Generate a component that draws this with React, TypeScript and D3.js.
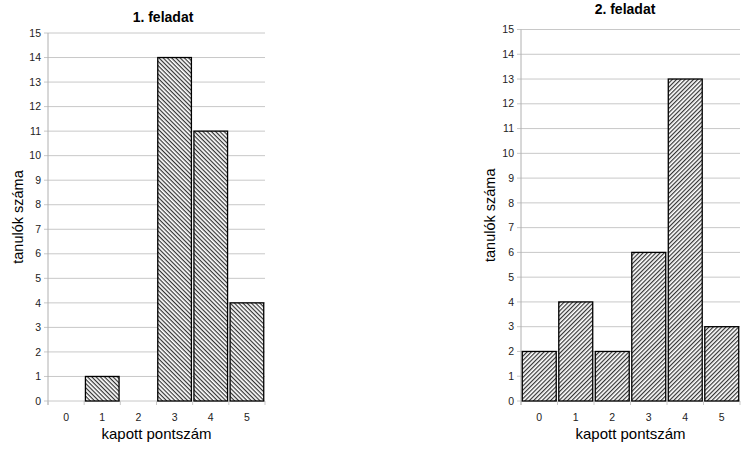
import * as d3 from 'd3';

// Chart data
const categories = ['0', '1', '2', '3', '4', '5'];
const task1Values = [0, 1, 0, 14, 11, 4];
const task2Values = [2, 4, 2, 6, 13, 3];
const yTicks = d3.range(0, 16);
const titles = ['1. feladat', '2. feladat'];
const xTitle = 'kapott pontszám';
const yTitle = 'tanulók száma';

const font = '"Liberation Sans", Arial, sans-serif';

type PanelProps = {
  values: number[];
  title: string;
  left: number;
  right: number;
  top: number;
  bottom: number;
  titleX: number;
  titleY: number;
  yLabelX: number;
  pattern: string;
};

function Panel({ values, title, left, right, top, bottom, titleX, titleY, yLabelX, pattern }: PanelProps) {
  const x = d3.scaleBand().domain(categories).range([left, right]).paddingInner(0.07).paddingOuter(0.035);
  const y = d3.scaleLinear().domain([0, 15]).range([bottom, top]);
  const step = (right - left) / categories.length;

  return (
    <g fontFamily={font}>
      <text x={titleX} y={titleY} textAnchor="middle" fontSize={14} fontWeight="bold" fill="#000">
        {title}
      </text>
      {/* gridlines + y ticks */}
      {yTicks.map((t) => (
        <g key={t}>
          <line x1={left - 4} x2={right} y1={y(t)} y2={y(t)} stroke="#c8c8c8" strokeWidth={1} />
          <text x={left - 7} y={y(t)} dy="0.35em" textAnchor="end" fontSize={10.5} fill="#222">
            {t}
          </text>
        </g>
      ))}
      {/* y axis */}
      <line x1={left} x2={left} y1={top} y2={bottom + 4} stroke="#b0b0b0" />
      {/* x ticks at band boundaries */}
      {d3.range(0, categories.length + 1).map((i) => (
        <line key={i} x1={left + i * step} x2={left + i * step} y1={bottom} y2={bottom + 4} stroke="#c8c8c8" />
      ))}
      {categories.map((c) => (
        <text key={c} x={(x(c) ?? 0) + x.bandwidth() / 2} y={bottom + 16} dy="0.35em" textAnchor="middle" fontSize={10.5} fill="#222">
          {c}
        </text>
      ))}
      {/* bars */}
      {values.map((v, i) =>
        v > 0 ? (
          <rect
            key={i}
            x={x(categories[i])}
            y={y(v)}
            width={x.bandwidth()}
            height={bottom - y(v)}
            fill={`url(#${pattern})`}
            stroke="#000"
            strokeWidth={1.3}
          />
        ) : null
      )}
      <text x={(left + right) / 2} y={bottom + 38} textAnchor="middle" fontSize={15} fill="#000">
        {xTitle}
      </text>
      <text
        transform={`translate(${yLabelX},${(top + bottom) / 2}) rotate(-90)`}
        textAnchor="middle"
        dy="0.35em"
        fontSize={14.5}
        fill="#000"
      >
        {yTitle}
      </text>
    </g>
  );
}

export default function App() {
  return (
    <svg width={755} height={451} viewBox="0 0 755 451" style={{ position: 'absolute', left: 0, top: 0, background: '#fff' }}>
      <defs>
        <pattern id="hatchBack" width={4} height={3} patternUnits="userSpaceOnUse" patternTransform="rotate(45)">
          <rect width={4} height={3} fill="#fff" />
          <rect width={4} height={1.2} fill="#333" />
        </pattern>
        <pattern id="hatchFwd" width={4} height={3} patternUnits="userSpaceOnUse" patternTransform="rotate(-45)">
          <rect width={4} height={3} fill="#fff" />
          <rect width={4} height={1.2} fill="#333" />
        </pattern>
      </defs>
      <rect width={755} height={451} fill="#fff" />
      <Panel
        values={task1Values}
        title={titles[0]}
        left={48}
        right={265}
        top={33}
        bottom={401}
        titleX={163}
        titleY={22}
        yLabelX={18}
        pattern="hatchBack"
      />
      <Panel
        values={task2Values}
        title={titles[1]}
        left={521}
        right={740}
        top={29.5}
        bottom={401}
        titleX={625}
        titleY={14}
        yLabelX={490}
        pattern="hatchFwd"
      />
    </svg>
  );
}
